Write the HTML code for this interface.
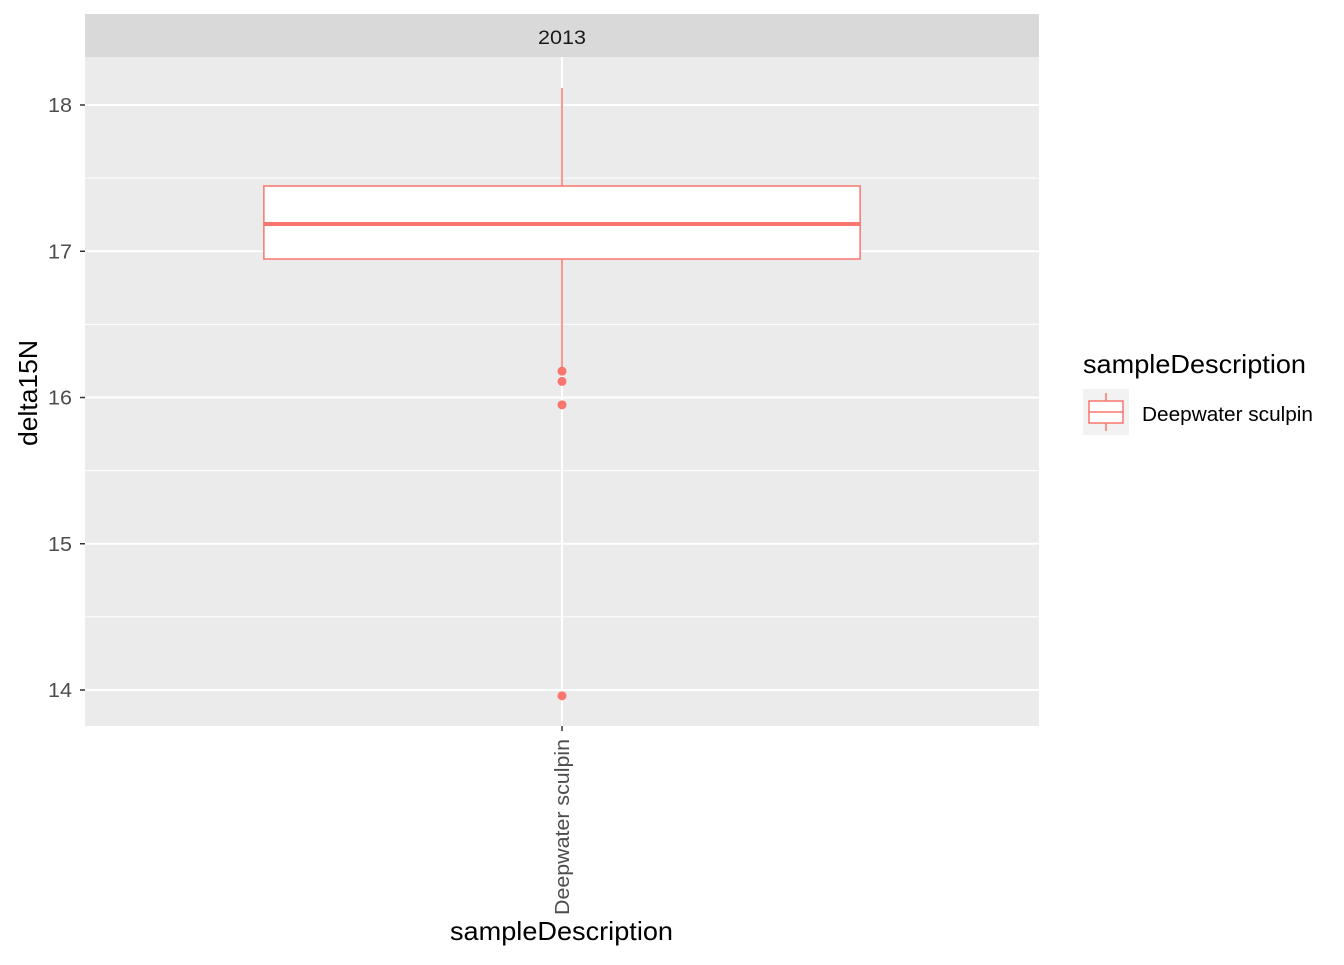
<!DOCTYPE html>
<html><head><meta charset="utf-8"><style>
body{margin:0;background:#fff;}
text{font-family:"Liberation Sans",Arial,sans-serif;}
</style></head><body>
<svg id="chart" width="1344" height="960" xmlns="http://www.w3.org/2000/svg">
<rect x="85" y="14" width="954" height="43" fill="#d9d9d9"/>
<text x="562" y="44" font-size="19.5" text-anchor="middle" fill="#1a1a1a" textLength="48" lengthAdjust="spacingAndGlyphs">2013</text>
<rect x="85" y="57" width="954" height="669" fill="#ebebeb"/>
<g id="grid"></g>
<g id="marks"></g>
<g id="axes"></g>
<text x="450" y="940" font-size="26" fill="#000" textLength="223" lengthAdjust="spacingAndGlyphs">sampleDescription</text>
<text transform="translate(37,446) rotate(-90)" font-size="26" fill="#000" textLength="106" lengthAdjust="spacingAndGlyphs">delta15N</text>
<text x="1083" y="373" font-size="26" fill="#000" textLength="223" lengthAdjust="spacingAndGlyphs">sampleDescription</text>
<g>
<rect x="1083" y="389" width="46" height="46" fill="#f2f2f2"/>
<line x1="1106" y1="393" x2="1106" y2="431" stroke="#f8766d" stroke-width="1.5"/>
<rect x="1089" y="401" width="34" height="22" fill="#fff" stroke="#f8766d" stroke-width="1.5"/>
<line x1="1089" y1="412" x2="1123" y2="412" stroke="#f8766d" stroke-width="1.5"/>
<text x="1142" y="421" font-size="20.5" fill="#000" textLength="171" lengthAdjust="spacingAndGlyphs">Deepwater sculpin</text>
</g>
</svg>
<script>
const categories=["Deepwater sculpin"];
const whiskerLow=[16.18];
const q1=[16.947];
const median=[17.186];
const q3=[17.446];
const whiskerHigh=[18.116];
const outliers=[[16.18,16.11,15.95,13.96]];
const yTicks=[14,15,16,17,18];
const NS="http://www.w3.org/2000/svg";
const y0=105,yv0=18,pxu=146.25;
function y(v){return y0+(yv0-v)*pxu;}
const pl=85,pr=1039;
function x(i){return pl+(pr-pl)*(i+0.5)/categories.length;}
function mk(parent,tag,attrs){const e=document.createElementNS(NS,tag);for(const k in attrs)e.setAttribute(k,attrs[k]);document.getElementById(parent).appendChild(e);return e;}
for(let i=0;i<yTicks.length;i++){
 const g=mk('grid','line',{x1:pl,x2:pr,y1:y(yTicks[i]),y2:y(yTicks[i]),stroke:'#fff','stroke-width':2});
 
 
 if(i<yTicks.length-1){const m=(yTicks[i]+yTicks[i+1])/2;
 const g2=mk('grid','line',{x1:pl,x2:pr,y1:y(m),y2:y(m),stroke:'#fff','stroke-width':1});
 
 }
 const t=mk('axes','line',{x1:80,x2:85,y1:y(yTicks[i]),y2:y(yTicks[i]),stroke:'#333','stroke-width':1.5});
 
 
 const l=mk('axes','text',{x:72,y:y(yTicks[i])+7,'font-size':20,'text-anchor':'end',fill:'#4d4d4d',textLength:24,lengthAdjust:'spacingAndGlyphs'});
 l.textContent=yTicks[i];
 
 
}
categories.forEach((c,i)=>{
 const cx=x(i);
 const vg=mk('grid','line',{x1:cx,x2:cx,y1:57,y2:726,stroke:'#fff','stroke-width':2});
 
 
 const hw=(pr-pl)/categories.length*0.625/2;
 const w1=mk('marks','line',{x1:cx,x2:cx,y1:y(q3[i]),y2:y(whiskerHigh[i]),stroke:'#f8766d','stroke-width':1.5});
 
 
 const w2=mk('marks','line',{x1:cx,x2:cx,y1:y(q1[i]),y2:y(whiskerLow[i]),stroke:'#f8766d','stroke-width':1.5});
 
 
 const b=mk('marks','rect',{x:cx-hw,y:y(q3[i]),width:2*hw,height:y(q1[i])-y(q3[i]),fill:'#fff',stroke:'#f8766d','stroke-width':1.5});
 
 
 const md=mk('marks','line',{x1:cx-hw,x2:cx+hw,y1:y(median[i]),y2:y(median[i]),stroke:'#f8766d','stroke-width':4});
 
 
 outliers[i].forEach(v=>{
  const o=mk('marks','circle',{cx:cx,cy:y(v),r:4.5,fill:'#f8766d'});
  
  
 });
 const t=mk('axes','line',{x1:cx,x2:cx,y1:726,y2:731,stroke:'#333','stroke-width':1.5});
 
 
 const l=mk('axes','text',{transform:`translate(${cx+7},739) rotate(-90)`,'font-size':20,'text-anchor':'end',fill:'#4d4d4d',textLength:176,lengthAdjust:'spacingAndGlyphs'});
 l.textContent=c;
 
 
});
</script>
</body></html>
